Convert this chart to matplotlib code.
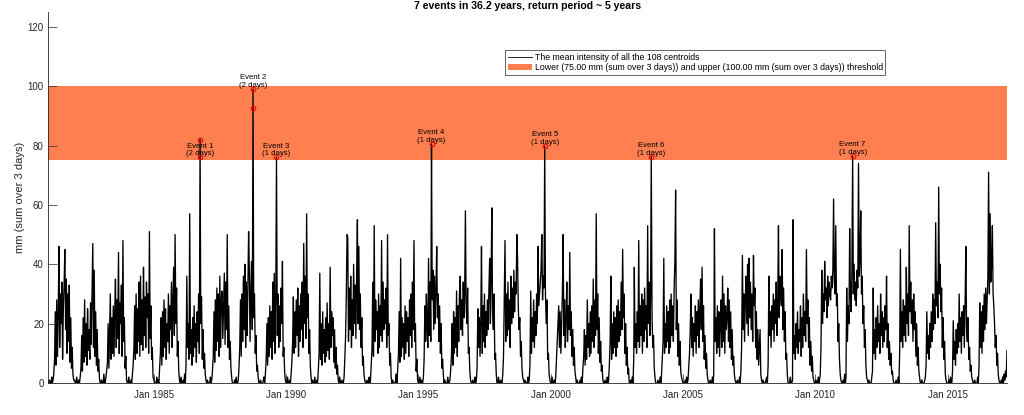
import numpy as np
import matplotlib
matplotlib.use("Agg")
import matplotlib.pyplot as plt
import matplotlib.dates as mdates
from matplotlib.patches import Patch
from matplotlib.lines import Line2D

plt.rcParams['font.family'] = ['Liberation Sans', 'DejaVu Sans']

# Mean intensity, mm (sum over 3 days), one value per dekad (days 1, 11, 21 of each month)
rain = {
    1981: [0,0,1,0,0,2,0,1,3, 8,24,6,28,9,22,46,12,30, 20,34,8,26,33,45,18,35,10, 30,14,33,7,22,5,12,3,1],
    1982: [1,0,0,2,0,0,1,0,2, 5,16,4,22,7,28,9,20,6, 25,11,18,8,27,13,30,47,12, 38,9,24,6,18,4,8,2,0],
    1983: [0,1,0,0,3,0,0,2,4, 7,20,5,18,30,8,22,10,26, 9,24,35,12,28,15,44,10,27, 20,33,9,48,14,22,5,9,1],
    1984: [0,0,2,0,0,1,0,3,6, 12,26,8,30,10,25,14,34,9, 36,13,28,11,39,16,29,12,34, 22,30,10,51,15,26,8,12,2],
    1985: [1,0,0,0,2,0,1,0,5, 10,22,6,24,9,28,12,25,8, 20,14,30,10,26,18,34,12,28, 39,16,50,20,32,9,14,4,1],
    1986: [0,2,0,0,1,0,3,0,6, 36,12,20,8,57,10,18,6,22, 9,26,12,20,7,24,14,30,10, 82,20,29,8,18,5,10,3,1],
    1987: [0,1,0,0,0,2,0,1,4, 9,24,7,28,11,32,14,30,9, 36,12,28,31,15,26,37,13,34, 18,50,12,26,8,14,5,2,0],
    1988: [0,0,1,0,2,0,0,1,5, 12,28,9,30,14,36,18,40,12, 34,16,30,51,38,14,32,41,18, 99,22,30,10,16,4,6,2,0],
    1989: [0,1,0,0,0,1,2,0,3, 8,20,6,22,9,26,12,24,8, 34,14,37,10,28,76,16,30,12, 26,14,32,20,41,9,12,4,1],
    1990: [0,0,2,0,0,1,0,3,7, 14,29,10,24,12,28,16,32,9, 26,14,30,18,34,12,47,20,36, 15,57,22,30,10,18,6,2,0],
    1991: [1,0,0,2,0,0,1,0,4, 10,37,8,20,6,24,10,18,7, 22,9,27,11,20,8,39,12,24, 16,22,7,18,5,12,3,6,1],
    1992: [0,2,0,0,1,0,0,2,8, 16,30,50,49,14,32,18,36,12, 28,16,40,20,33,15,38,55,20, 46,18,30,12,22,6,9,3,1],
    1993: [0,0,1,0,0,2,0,1,6, 12,34,9,53,14,28,18,24,10, 30,12,26,16,48,14,34,18,28, 20,32,12,50,16,20,6,10,2],
    1994: [0,1,0,0,0,1,3,0,5, 10,24,7,42,9,22,12,20,8, 26,10,24,14,22,9,28,16,30, 12,34,18,48,14,20,4,8,1],
    1995: [0,0,2,0,1,0,0,2,8, 26,14,30,20,12,42,16,34,14, 80.5,28,38,18,36,20,32,46,22, 30,14,26,10,20,5,8,3,0],
    1996: [1,0,0,0,2,0,0,1,4, 9,20,6,24,10,22,12,31,9, 26,14,30,36,18,28,16,34,22, 30,58,26,20,32,10,12,4,1],
    1997: [0,0,1,0,0,2,0,1,5, 25,12,22,9,20,46,10,26,14, 30,12,24,16,28,18,32,42,20, 36,59,24,18,30,8,10,3,0],
    1998: [0,2,0,0,1,0,0,3,9, 30,48,14,30,16,34,18,28,12, 36,20,32,22,38,24,34,30,50, 42,26,18,22,9,14,5,2,1],
    1999: [0,1,0,0,0,2,0,1,6, 31,10,22,14,28,12,24,16,30, 20,46,26,30,34,38,50,28,36, 32,79.8,30,20,28,8,10,3,1],
    2000: [0,0,2,0,0,1,0,2,8, 14,20,26,12,24,10,20,30,50, 16,28,12,22,34,14,26,18,44, 16,24,9,18,6,12,4,2,0],
    2001: [1,0,0,0,1,0,2,0,5, 9,18,6,16,8,28,12,20,9, 24,10,26,14,35,12,28,16,57, 18,30,10,22,7,14,4,6,1],
    2002: [0,0,1,0,0,2,0,1,6, 14,36,8,20,10,24,12,22,9, 26,12,28,14,24,16,34,18,45, 22,30,10,20,6,12,3,5,0],
    2003: [0,1,0,2,0,8,39,12,20, 10,24,14,48,12,26,16,30,10, 28,14,32,18,26,12,53,20,34, 16,28,76.2,22,12,16,5,2,0],
    2004: [0,0,1,0,0,2,0,3,8, 14,42,10,20,12,26,14,24,10, 28,12,30,16,26,14,32,41,65, 18,28,9,20,6,14,4,2,1],
    2005: [0,0,0,1,0,2,0,1,5, 10,18,30,12,22,9,20,14,26, 10,24,16,28,12,24,35,18,39, 14,26,8,16,5,10,3,1,0],
    2006: [0,1,0,0,2,0,3,52,14, 22,10,26,12,24,9,20,28,12, 36,14,30,10,26,18,22,32,14, 28,12,24,8,18,6,9,3,1],
    2007: [0,0,1,0,0,2,0,4,12, 43,18,30,14,28,36,20,40,16, 42,22,34,18,30,14,43,26,32, 12,24,8,18,6,12,18,3,1],
    2008: [0,1,0,0,0,1,2,0,6, 36,16,24,12,26,18,30,14,28, 20,34,16,28,53,22,36,30,26, 45,18,32,14,24,8,10,3,0],
    2009: [0,0,2,0,0,1,55,10,16, 8,20,12,24,10,18,14,26,9, 22,12,30,16,24,14,45,20,28, 12,22,6,14,4,9,2,1,0],
    2010: [0,1,0,0,2,0,1,3,12, 38,20,30,24,41,28,32,22,36, 26,34,30,28,36,32,38,62,34, 30,53,26,30,14,20,8,3,1],
    2011: [0,0,1,0,3,0,2,32,14, 26,20,52,30,24,36,76.4,30,40, 28,34,26,38,32,74,36,42,58, 30,36,20,26,12,18,6,2,1],
    2012: [0,1,0,0,0,2,4,32,10, 18,8,22,12,26,14,20,10,30, 16,24,12,22,14,26,18,36,12, 20,8,14,6,10,3,4,1,0],
    2013: [0,0,1,0,0,2,0,10,45, 14,24,12,28,16,26,14,39,20, 30,16,53,24,34,20,28,14,30, 18,24,9,20,6,12,4,2,0],
    2014: [0,1,0,0,0,1,2,6,24, 10,16,8,20,12,24,14,30,18, 28,20,54,26,34,22,66,30,40, 24,32,12,22,8,14,3,1,0],
    2015: [0,0,1,0,2,0,0,4,21, 8,14,6,18,10,20,12,30,14, 22,10,24,16,26,12,28,46,18, 14,22,8,12,4,6,2,1,0],
    2016: [0,1,0,0,0,2,0,6,27, 12,24,10,26,14,30,18,32,20, 28,36,71,30,57,34,40,53,30, 26,20,12,16,6,10,3,1,0],
    2017: [0,1,0,2,0,3,1,4,2, 11],
}

# events above the lower threshold (one marker per day)
eventNames = ['Event 1', 'Event 2', 'Event 3', 'Event 4', 'Event 5', 'Event 6', 'Event 7']
eventDays = [2, 2, 1, 1, 1, 1, 1]
eventDates = [['1986-10-01', '1986-10-02'], ['1988-10-01', '1988-10-02'], ['1989-08-11'],
              ['1995-07-01'], ['1999-10-11'], ['2003-10-21'], ['2011-06-01']]
eventValues = [[76, 82], [99, 92.5], [76], [80.5], [79.8], [76.2], [76.4]]

lower = 75
upper = 100

dates = []
values = []
for year, row in rain.items():
    for k, v in enumerate(row):
        dates.append(np.datetime64('%d-%02d-%02d' % (year, k // 3 + 1, 1 + 10 * (k % 3))))
        values.append(v)

axisColor = '#262626'
bandColor = '#ff7f50'

fig = plt.figure(figsize=(10.24, 4.15), dpi=100)
ax = fig.add_axes([0.0469, 0.0771, 0.9365, 0.894])

ax.axhspan(lower, upper, color=bandColor, lw=0, zorder=0)
ax.plot(dates, values, color='black', lw=0.95, zorder=2)

for name, nd, ed, ev in zip(eventNames, eventDays, eventDates, eventValues):
    d = [np.datetime64(s) for s in ed]
    ax.plot(d, ev, 'o', ms=3.3, mfc='none', mec='red', mew=0.8, zorder=3)
    ax.text(d[0], ev[0], '%s\n(%d days)' % (name, nd), ha='center', va='bottom',
            fontsize=5.6, linespacing=1.15, zorder=4)

ax.set_ylim(0, 125)
ax.set_yticks(range(0, 121, 20))
ax.set_xlim(dates[0], dates[-1])
ax.xaxis.set_major_locator(mdates.YearLocator(5, month=1, day=1))
ax.xaxis.set_major_formatter(mdates.DateFormatter('%b %Y'))

for s in ['top', 'right']:
    ax.spines[s].set_visible(False)
for s in ['left', 'bottom']:
    ax.spines[s].set_color(axisColor)
    ax.spines[s].set_linewidth(0.6)
ax.tick_params(direction='in', length=6.5, width=0.5, colors=axisColor, labelsize=7)
ax.tick_params(axis='x', pad=5)
ax.tick_params(axis='y', pad=3)

ax.set_ylabel('mm (sum over 3 days)', fontsize=8, color=axisColor)
ax.yaxis.set_label_coords(-0.024, 0.5)
ax.set_title('7 events in 36.2 years, return period ~ 5 years', fontsize=7.6,
             fontweight='bold', pad=2.2)

handles = [Line2D([], [], color='black', lw=0.6), Patch(facecolor=bandColor, edgecolor='none')]
labels = ['The mean intensity of all the 108 centroids',
          'Lower (75.00 mm (sum over 3 days)) and upper (100.00 mm (sum over 3 days)) threshold']
leg = ax.legend(handles, labels, loc='upper left', bbox_to_anchor=(0.4765, 0.8976),
                borderaxespad=0, fontsize=6.3, fancybox=False, framealpha=1,
                edgecolor=axisColor, handlelength=2.75, handletextpad=0.35,
                borderpad=0.3, labelspacing=0.2)
leg.get_frame().set_linewidth(0.5)

fig.savefig('out.png', dpi=100)
